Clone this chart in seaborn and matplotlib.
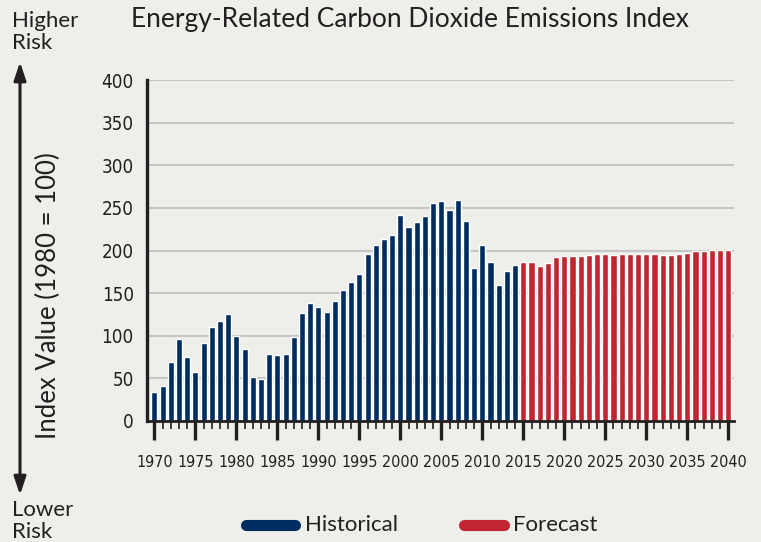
import matplotlib
matplotlib.use("Agg")
import matplotlib.pyplot as plt
import seaborn as sns
import pandas as pd
from matplotlib.lines import Line2D
from matplotlib.ticker import MultipleLocator
from matplotlib import font_manager as fm

hist_years = list(range(1970, 2015))
hist_values = [34, 41, 69, 96, 75, 57, 92, 110, 117, 125,
               100, 84, 52, 49, 79, 78, 79, 99, 127, 139,
               134, 128, 141, 154, 163, 172, 196, 206, 213, 218,
               242, 228, 234, 241, 256, 258, 248, 259, 235, 180,
               206, 187, 160, 176, 183]
fc_years = list(range(2015, 2041))
fc_values = [186, 187, 182, 185, 192, 194, 194, 194, 195, 196,
             196, 195, 196, 196, 196, 196, 196, 195, 195, 196,
             197, 199, 200, 201, 201, 201]
series_names = ["Historical", "Forecast"]
series_colors = ["#002c5f", "#c1252f"]
y_ticks = [0, 50, 100, 150, 200, 250, 300, 350, 400]
x_ticks = list(range(1970, 2041, 5))

df = pd.DataFrame({
    "year": hist_years + fc_years,
    "value": hist_values + fc_values,
    "type": [series_names[0]] * len(hist_years) + [series_names[1]] * len(fc_years),
})

sns.set_theme(style="white")
bg = "#eeeeea"
plt.rcParams["font.family"] = ["Lato", "DejaVu Sans"]


def pick_narrow():
    files = [f.fname for f in fm.fontManager.ttflist]
    for key in ["LiberationSansNarrow-Regular", "LiberationSansNarrow",
                "DejaVuSansCondensed.", "DejaVuSansCondensed",
                "RobotoCondensed-Regular", "Condensed-Regular", "Narrow", "Condensed"]:
        for fn in files:
            base = fn.split("/")[-1]
            if key in base and "Bold" not in base and "Italic" not in base and "Oblique" not in base:
                return fn
    return None


narrow_file = pick_narrow()
is_deja = narrow_file is not None and "DejaVu" in narrow_file


def tick_fp(size):
    if narrow_file:
        return fm.FontProperties(fname=narrow_file, size=size)
    return fm.FontProperties(family="Lato", size=size)


fig = plt.figure(figsize=(7.61, 5.42), dpi=100, facecolor=bg)
ax = fig.add_axes([147 / 761, 1 - 421 / 542, (734 - 147) / 761, (421 - 80) / 542])
ax.set_facecolor(bg)

sns.barplot(data=df, x="year", y="value", hue="type", native_scale=True,
            palette=dict(zip(series_names, series_colors)), dodge=False,
            width=0.74, legend=False, ax=ax, zorder=3, saturation=1)

ax.set_xlim(1969.1, 2040.7)
ax.set_ylim(0, 400)
ax.set_yticks(y_ticks)
ax.set_xticks(x_ticks)
ax.xaxis.set_minor_locator(MultipleLocator(1))
ax.grid(axis="y", color="#c6c6c6", linewidth=1.5, zorder=0)
ax.set_axisbelow(True)
ax.set_xlabel("")
ax.set_ylabel("")

for s in ["top", "right"]:
    ax.spines[s].set_visible(False)
ax.spines["left"].set_linewidth(2.4)
ax.spines["left"].set_color("#231f20")
ax.spines["bottom"].set_linewidth(2.0)
ax.spines["bottom"].set_color("#231f20")
ax.spines["left"].set_zorder(5)
ax.spines["bottom"].set_zorder(5)

ax.tick_params(axis="y", length=0, pad=9.5, labelcolor="#231f20")
ax.tick_params(axis="x", which="major", bottom=True, length=14, width=2.4, color="#231f20",
               direction="out", pad=10.5, labelcolor="#231f20")
ax.tick_params(axis="x", which="minor", length=6, width=1.4, color="#3a3a3a",
               direction="out", bottom=True)
ysize = 13.5 if is_deja else 15
xsize = 11.5 if is_deja else 13.3
ax.set_yticks(y_ticks, [str(v) for v in y_ticks], fontproperties=tick_fp(ysize))
ax.set_xticks(x_ticks, [str(v) for v in x_ticks], fontproperties=tick_fp(xsize))

fig.text(410 / 761, 1 - 20 / 542, "Energy-Related Carbon Dioxide Emissions Index",
         ha="center", va="center", fontsize=19, color="#231f20")
fig.text(12 / 761, 1 - 32 / 542, "Higher\nRisk", ha="left", va="center",
         fontsize=16, color="#231f20", linespacing=1.1)
fig.text(12 / 761, 1 - 521 / 542, "Lower\nRisk", ha="left", va="center",
         fontsize=16, color="#231f20", linespacing=1.1)
fig.text(48 / 761, 1 - 296 / 542, "Index Value (1980 = 100)", rotation=90,
         ha="center", va="center", fontsize=18.5, color="#231f20")

ax.annotate("", xy=(20 / 761, 1 - 62 / 542), xytext=(20 / 761, 1 - 495 / 542),
            xycoords="figure fraction", textcoords="figure fraction",
            arrowprops=dict(arrowstyle="<|-|>,head_length=0.9,head_width=0.3",
                            color="#231f20", lw=2.2, shrinkA=0, shrinkB=0))

# legend
leg_y = 1 - 525 / 542
fig.add_artist(Line2D([246 / 761, 295 / 761], [leg_y, leg_y], lw=8,
                      color=series_colors[0], solid_capstyle="round",
                      transform=fig.transFigure))
fig.text(305 / 761, leg_y, series_names[0], ha="left", va="center",
         fontsize=16, color="#231f20")
fig.add_artist(Line2D([464 / 761, 504 / 761], [leg_y, leg_y], lw=8,
                      color=series_colors[1], solid_capstyle="round",
                      transform=fig.transFigure))
fig.text(513 / 761, leg_y, series_names[1], ha="left", va="center",
         fontsize=16, color="#231f20")

fig.savefig("out.png", dpi=100, facecolor=bg)
